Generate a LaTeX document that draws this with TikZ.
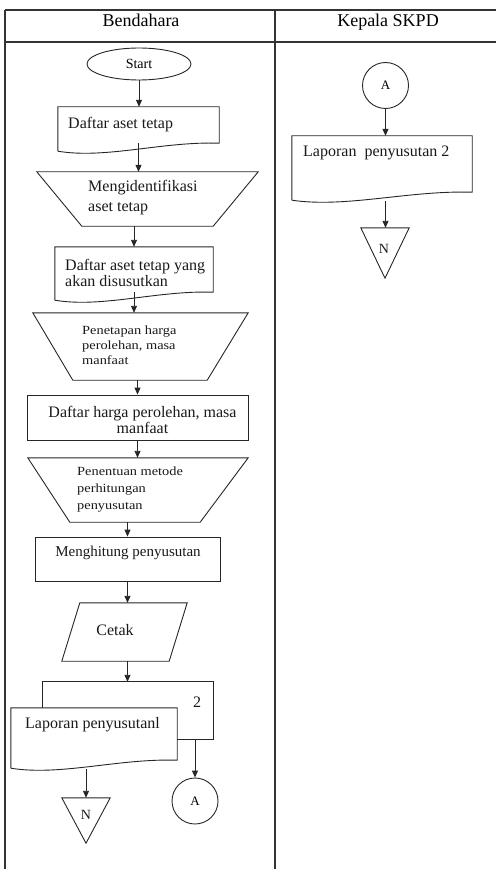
\documentclass[tikz,border=0pt]{standalone}
\usepackage{fontspec}
\setmainfont{Liberation Serif}
\newfontfamily\stretchfont[FakeStretch=1.15]{Liberation Serif}
\usetikzlibrary{arrows.meta,shapes.geometric,calc}
\tikzset{
  ln/.style={line width=0.9pt, draw=black!85},
  tbl/.style={line width=1.1pt, draw=black!80},
  arr/.style={ln, -{Triangle[length=7pt,width=6pt]}},
  shp/.style={draw=none, inner sep=0pt, rectangle},
  txt/.style={inner sep=0pt, font=\fontsize{16}{16}\selectfont, text=black!90},
  smalltxt/.style={inner sep=0pt, font=\stretchfont\fontsize{12.5}{15}\selectfont, text=black!90, align=left},
}
\newcommand\docout[1]{\draw[ln] ([yshift=-8pt]#1.south west) -- (#1.north west) -- (#1.north east) -- (#1.south east)
  .. controls ($(#1.south west)!0.65!(#1.south east)+(0pt,2pt)$) and ($(#1.south west)!0.3!(#1.south east)+(0pt,-16pt)$) .. ([yshift=-8pt]#1.south west);}
\newcommand\trapout[3]{\draw[ln] (#1.north west) -- (#1.north east) -- ([xshift=-#3]#1.south east) -- ([xshift=#2]#1.south west) -- cycle;}
\newcommand\triout[1]{\draw[ln] (#1.north west) -- (#1.north east) -- (#1.south) -- cycle;}
\begin{document}
\begin{tikzpicture}[x=1pt,y=-1pt]
\useasboundingbox (0,0) rectangle (496,869);
% table
\draw[tbl] (5,10) -- (496,10);
\draw[tbl] (5,42) -- (496,42);
\draw[tbl] (5,10) -- (5,869);
\draw[tbl] (275,10) -- (275,869);
\node[anchor=base, inner sep=0pt, font=\fontsize{18}{18}\selectfont] (h1) at (141,27) {Bendahara};
\node[anchor=base, inner sep=0pt, font=\fontsize{18}{18}\selectfont] (h2) at (388,27) {Kepala SKPD};

% ---------- left column
\node[ellipse, ln, minimum width=104pt, minimum height=32pt, inner sep=0pt, font=\fontsize{14}{14}\selectfont] (start) at (139,64) {Start};

\node[shp, minimum width=161pt, minimum height=36pt] (doc1) at (138.5,125) {};
\docout{doc1}
\node[txt, anchor=west] (t1) at (68,125) {Daftar aset tetap};

\node[shp, minimum width=221pt, minimum height=54pt] (trap1) at (147.5,199) {};
\trapout{trap1}{45pt}{45pt}
\node[txt, anchor=west, align=left, font=\fontsize{16}{20}\selectfont] (t2) at (88,198) {Mengidentifikasi\\aset tetap};

\node[shp, minimum width=158pt, minimum height=45pt] (doc2) at (134,269.5) {};
\docout{doc2}
\node[txt, anchor=west, align=left] (t3) at (65,272.5) {Daftar aset tetap yang\\akan disusutkan};

\node[shp, minimum width=215pt, minimum height=67pt] (trap2) at (140.5,346.5) {};
\trapout{trap2}{40pt}{41pt}
\node[smalltxt, anchor=west] (t4) at (82,345) {Penetapan harga\\perolehan, masa\\manfaat};

\node[shp, ln, draw, minimum width=221pt, minimum height=45pt] (rect3) at (137.5,417.5) {};
\node[txt, align=center] (t5) at (142.5,420) {Daftar harga perolehan, masa\\manfaat};

\node[shp, minimum width=220pt, minimum height=64pt] (trap3) at (138,490) {};
\trapout{trap3}{42pt}{48pt}
\node[smalltxt, anchor=west, font=\stretchfont\fontsize{12.5}{17}\selectfont] (t6) at (77,490) {Penentuan metode\\perhitungan\\penyusutan};

\node[shp, ln, draw, minimum width=185pt, minimum height=44pt] (rect4) at (127.5,559) {};
\node[txt, font=\fontsize{15}{15}\selectfont] (t7) at (128,553) {Menghitung penyusutan};

\node[shp, minimum width=125pt, minimum height=58pt] (para) at (124.5,632) {};
\draw[ln] ([xshift=18pt]para.north west) -- (para.north east) -- ([xshift=-18pt]para.south east) -- (para.south west) -- cycle;
\node[txt] (t8) at (115,630) {Cetak};

% multi document
\node[shp, minimum width=170pt, minimum height=57pt] (back) at (128,710.5) {};
\node[shp, minimum width=166pt, minimum height=52pt] (front) at (94,734) {};
\draw[ln] (back.west |- front.north) -- (back.north west) -- (back.north east) -- (back.south east) -- (back.south -| front.east);
\docout{front}
\node[txt] (t9) at (197,702) {2};
\node[txt, anchor=west] (t10) at (25,725) {Laporan penyusutanl};

\node[circle, ln, minimum size=46pt, inner sep=0pt, font=\fontsize{13}{13}\selectfont] (a2) at (195,801) {A};
\node[shp, minimum width=48pt, minimum height=45pt] (n2) at (86,820.5) {};
\triout{n2}
\node[txt, font=\fontsize{14}{14}\selectfont] (tn2) at (86,815) {N};

% arrows left
\draw[arr] (start.south) -- (start.south |- doc1.north);
\draw[arr] (doc1.south) -- (doc1.south |- trap1.north);
\draw[arr] (trap1.south -| doc2.north) -- (doc2.north);
\draw[arr] (doc2.south) -- (doc2.south |- trap2.north);
\draw[arr] (trap2.south -| rect3.north) -- (rect3.north);
\draw[arr] (rect3.south) -- (rect3.south |- trap3.north);
\draw[arr] (trap3.south -| rect4.north) -- (rect4.north);
\draw[arr] (rect4.south) -- (rect4.south |- para.north);
\draw[arr] (para.south -| rect4.south) -- (rect4.south |- back.north);
\draw[arr] (back.south -| a2.north) -- (a2.north);
\draw[arr] ([yshift=-9pt]front.south -| n2.north) -- (n2.north);

% ---------- right column
\node[circle, ln, minimum size=46pt, inner sep=0pt, font=\fontsize{13}{13}\selectfont] (a1) at (385.5,85.5) {A};
\node[shp, minimum width=180pt, minimum height=56pt] (doc5) at (382,164) {};
\docout{doc5}
\node[txt, anchor=west] (t11) at (303,153) {Laporan\ \ penyusutan 2};
\node[shp, minimum width=48pt, minimum height=50pt] (n1) at (385,253) {};
\triout{n1}
\node[txt, font=\fontsize{14}{14}\selectfont] (tn1) at (384,249) {N};

\draw[arr] (a1.south) -- (a1.south |- doc5.north);
\draw[arr] ([yshift=-9pt]doc5.south -| a1.south) -- (a1.south |- n1.north);
\end{tikzpicture}
\end{document}
